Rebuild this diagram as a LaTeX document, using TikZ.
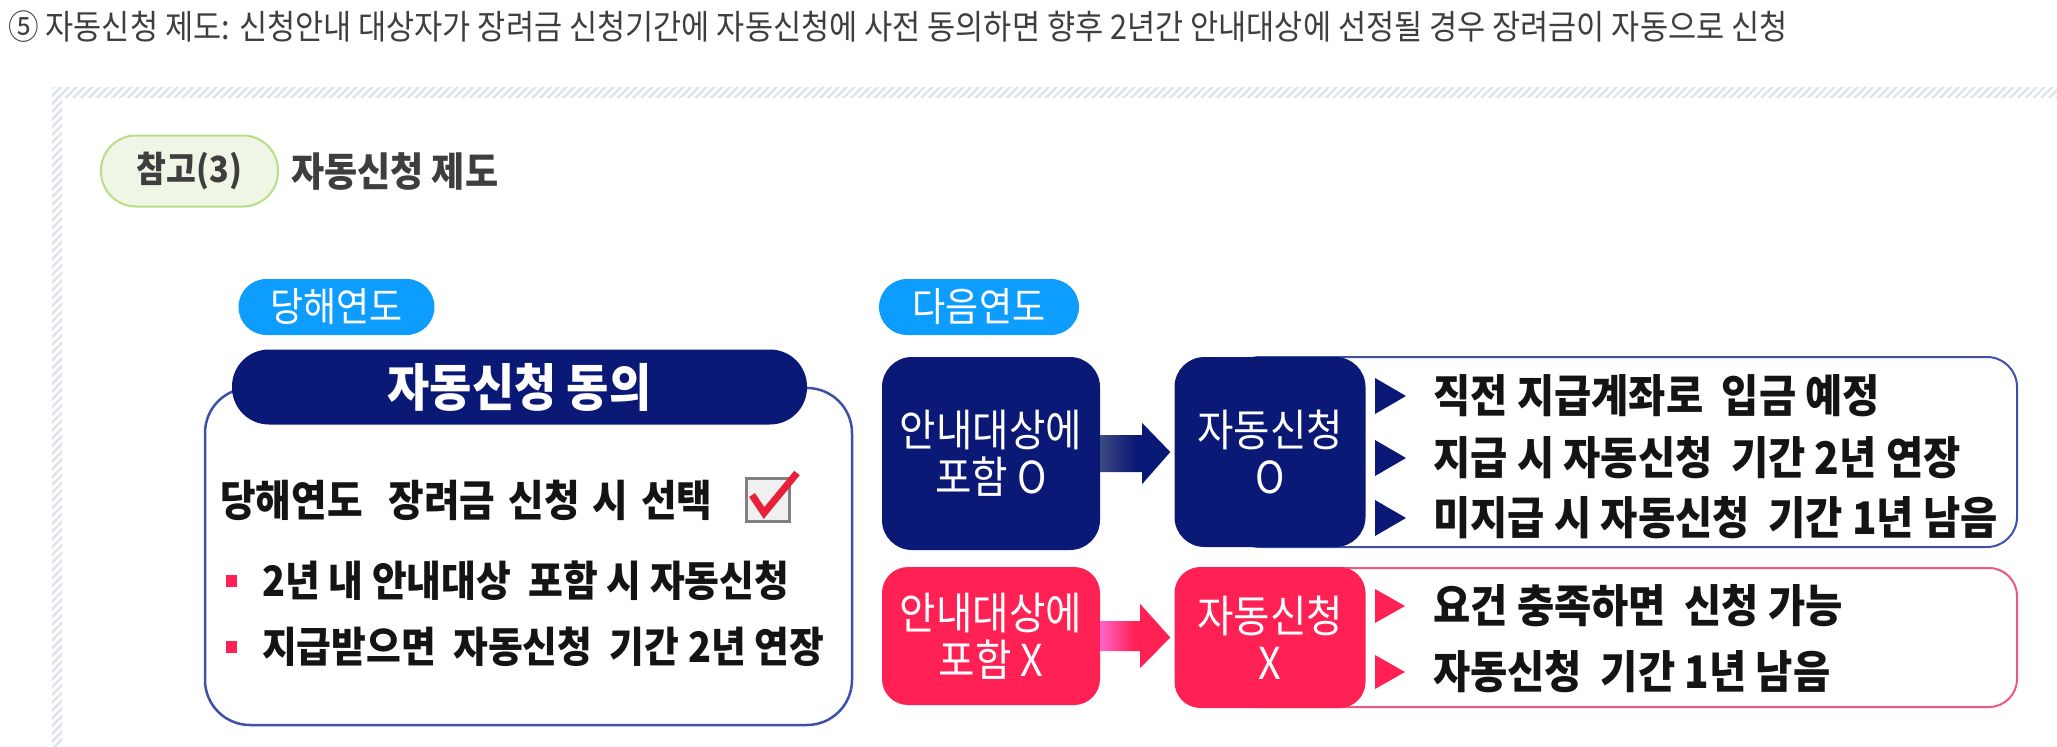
\documentclass[tikz,border=0pt]{standalone}
\usepackage{fontspec}
\setmainfont{Noto Sans CJK KR}[FakeStretch=0.9]
\usetikzlibrary{calc,patterns.meta}

\definecolor{navy}{RGB}{10,24,118}
\definecolor{navyfade}{RGB}{60,74,130}
\definecolor{rose}{RGB}{255,32,84}
\definecolor{rosefade}{RGB}{255,100,200}
\definecolor{skyblue}{RGB}{12,157,255}
\definecolor{navyline}{RGB}{62,80,168}
\definecolor{roseline}{RGB}{236,90,128}
\definecolor{hatch}{RGB}{221,226,236}
\definecolor{leaf}{RGB}{239,246,229}
\definecolor{leafline}{RGB}{184,222,134}
\definecolor{inkgray}{RGB}{62,62,62}
\definecolor{ink}{RGB}{20,20,20}
\definecolor{checkred}{RGB}{232,32,60}

\tikzset{
  year/.style={fill=skyblue, text=white, rounded corners=28, minimum width=196,
    minimum height=56, inner sep=0, font=\fontsize{40}{44}\selectfont},
  navybox/.style={fill=navy, text=white, rounded corners=30, align=center,
    inner sep=0, font=\fontsize{44}{47}\selectfont},
  rosebox/.style={navybox, fill=rose, rounded corners=26},
  item/.style={anchor=west, inner sep=0, text=ink,
    font=\fontsize{45}{50}\selectfont\bfseries},
  band/.style={pattern={Lines[angle=45,distance=5.5pt,line width=2.4pt]},
    pattern color=hatch},
}

\begin{document}
\begin{tikzpicture}[x=1pt, y=-1pt]
  \useasboundingbox (0,0) rectangle (2057,747);

  \fill[band] (52,87) rectangle (2057,97);
  \fill[band] (52,97) rectangle (62,747);

  \node[anchor=west, inner sep=0, text=inkgray, font=\fontsize{34}{38}\selectfont] (intro) at (8,27)
    {⑤ 자동신청 제도: 신청안내 대상자가 장려금 신청기간에 자동신청에 사전 동의하면 향후 2년간 안내대상에 선정될 경우 장려금이 자동으로 신청};

  \node[draw=leafline, fill=leaf, line width=2, rounded corners=35, minimum width=177,
    minimum height=71, inner sep=0, text=inkgray, font=\fontsize{36}{40}\selectfont\bfseries] (ref) at (189.5,171) {참고(3)};
  \node[anchor=west, inner sep=0, text=inkgray, font=\fontsize{40}{44}\selectfont\bfseries] (title) at (291,172) {자동신청 제도};

  \node[year] (thisyear) at (336.5,307) {당해연도};
  \node[year, minimum width=200] (nextyear) at (979,307) {다음연도};

  \draw[navyline, line width=2.5, rounded corners=45] (205,388) rectangle (852,725);
  \node[fill=navy, text=white, rounded corners=37, minimum width=575, minimum height=75,
    inner sep=0, font=\fontsize{51}{55}\selectfont\bfseries] (agree) at (519.5,387) {자동신청 동의};

  \node[item, font={\fontsize{43}{48}\selectfont\bfseries\spaceskip=13pt\relax}] (choose) at (220,500)
    {당해연도\ \ 장려금 신청 시 선택};
  \node[draw=gray, fill=black!6, line width=3, minimum size=43, inner sep=0] (chk) at (767.5,500) {};
  \draw[checkred, line width=7] ($(chk.center)+(-15.5,-5)$) -- ($(chk.center)+(-3.5,13)$)
    -- ($(chk.center)+(29.5,-27)$);

  \fill[rose] (226,575) rectangle (237,587);
  \fill[rose] (226,641) rectangle (237,653);
  \node[item, font=\fontsize{42}{46}\selectfont\bfseries] (within) at (262,581) {2년 내 안내대상~~포함 시 자동신청};
  \node[item, font=\fontsize{42}{46}\selectfont\bfseries] (paid) at (262,647) {지급받으면~~자동신청~~기간 2년 연장};

  \draw[navyline, line width=2, rounded corners=30] (1230,357) rectangle (2017,547);
  \draw[roseline, line width=2, rounded corners=28] (1230,568) rectangle (2017,707);

  \node[navybox, minimum width=218, minimum height=193] (in1) at (991,453.5) {안내대상에\\포함 O};
  \node[navybox, minimum width=191, minimum height=190] (auto1) at (1270,452) {자동신청\\O};
  \node[rosebox, minimum width=218, minimum height=138] (in2) at (991,636) {안내대상에\\포함 X};
  \node[rosebox, minimum width=191, minimum height=141] (auto2) at (1270,637.5) {자동신청\\X};

  \shade[left color=navyfade, right color=navy, middle color=navy]
    ($(in1.east)+(0,-18.5)$) -- ++(42,0) -- ++(0,-12) -- ($(auto1.west)+(-4,0)$)
    -- ($(in1.east)+(42,30.5)$) -- ++(0,-12) -- ($(in1.east)+(0,18.5)$) -- cycle;
  \shade[left color=rosefade, right color=rose, middle color=rose]
    ($(in2.east)+(0,-15)$) -- ++(40,0) -- ++(0,-17) -- ($(auto2.west)+(-4,0)$)
    -- ($(in2.east)+(40,32)$) -- ++(0,-17) -- ($(in2.east)+(0,15)$) -- cycle;

  \foreach \y in {396,458,518}
    \fill[navy] (1375,\y-18) -- (1406,\y) -- (1375,\y+18) -- cycle;
  \foreach \y in {606,672}
    \fill[rose] (1375,\y-17) -- (1405,\y) -- (1375,\y+17) -- cycle;

  \node[item] (account) at (1433,396) {직전 지급계좌로~~입금 예정};
  \node[item] (extend) at (1433,458) {지급 시 자동신청~~기간 2년 연장};
  \node[item] (remain) at (1433,518) {미지급 시 자동신청~~기간 1년 남음};
  \node[item] (apply) at (1433,606) {요건 충족하면~~신청 가능};
  \node[item] (oneyear) at (1433,672) {자동신청~~기간 1년 남음};

\end{tikzpicture}
\end{document}
